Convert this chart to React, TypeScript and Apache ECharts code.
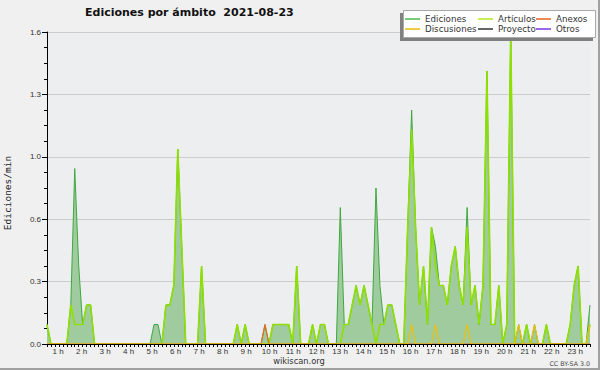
import React, { useEffect, useRef } from "react";
import * as echarts from "echarts";

// 10-minute buckets (index 0 = 00:00). Values in edits per minute.
const hourLabels = [
  "1 h", "2 h", "3 h", "4 h", "5 h", "6 h", "7 h", "8 h", "9 h", "10 h", "11 h", "12 h",
  "13 h", "14 h", "15 h", "16 h", "17 h", "18 h", "19 h", "20 h", "21 h", "22 h", "23 h",
];

const ediciones = [
  0.1, 0, 0, 0, 0, 0, 0.2, 0.9, 0.4, 0.1, 0.2, 0.2,
  0, 0, 0, 0, 0, 0, 0, 0, 0, 0, 0, 0,
  0, 0, 0, 0.1, 0.1, 0, 0.2, 0.2, 0.3, 1.0, 0.5, 0,
  0, 0, 0, 0.4, 0, 0, 0, 0, 0, 0, 0, 0,
  0.1, 0, 0.1, 0, 0, 0, 0, 0.1, 0, 0.1, 0.1, 0.1,
  0.1, 0.1, 0, 0.4, 0, 0, 0, 0.1, 0, 0.1, 0.1, 0,
  0, 0, 0.7, 0.1, 0.1, 0.2, 0.3, 0.2, 0.3, 0.2, 0.1, 0.8,
  0.3, 0.1, 0.2, 0.2, 0.1, 0, 0, 0.6, 1.2, 0.6, 0.2, 0.4,
  0.1, 0.6, 0.5, 0.3, 0.3, 0.2, 0.4, 0.5, 0.3, 0.2, 0.7, 0.2,
  0.3, 0.1, 0.3, 1.4, 0.1, 0.1, 0.3, 0, 0.1, 1.6, 0, 0.1,
  0, 0.1, 0, 0.1, 0, 0, 0.1, 0, 0, 0, 0, 0,
  0.1, 0.3, 0.4, 0, 0, 0.2,
];

const articulos = [
  0.1, 0, 0, 0, 0, 0, 0.2, 0.1, 0.1, 0.1, 0.2, 0.2,
  0, 0, 0, 0, 0, 0, 0, 0, 0, 0, 0, 0,
  0, 0, 0, 0, 0, 0, 0.2, 0.2, 0.3, 1.0, 0.5, 0,
  0, 0, 0, 0.4, 0, 0, 0, 0, 0, 0, 0, 0,
  0.1, 0, 0.1, 0, 0, 0, 0, 0, 0, 0.1, 0.1, 0.1,
  0.1, 0.1, 0, 0.4, 0, 0, 0, 0.1, 0, 0.1, 0.1, 0,
  0, 0, 0, 0.1, 0.1, 0.2, 0.3, 0.2, 0.3, 0.2, 0.1, 0,
  0.1, 0.1, 0.2, 0.2, 0.1, 0, 0, 0.6, 1.1, 0.6, 0.2, 0.4,
  0.1, 0.6, 0.4, 0.3, 0.3, 0.2, 0.4, 0.5, 0.3, 0.2, 0.6, 0.2,
  0.3, 0.1, 0.3, 1.4, 0.1, 0.1, 0.3, 0, 0.1, 1.6, 0, 0,
  0, 0.1, 0, 0, 0, 0, 0.1, 0, 0, 0, 0, 0,
  0.1, 0.3, 0.4, 0, 0, 0.1,
];

const anexos = [
  0, 0, 0, 0, 0, 0, 0, 0, 0, 0, 0, 0,
  0, 0, 0, 0, 0, 0, 0, 0, 0, 0, 0, 0,
  0, 0, 0, 0, 0, 0, 0, 0, 0, 0, 0, 0,
  0, 0, 0, 0, 0, 0, 0, 0, 0, 0, 0, 0,
  0, 0, 0, 0, 0, 0, 0, 0.1, 0, 0, 0, 0,
  0, 0, 0, 0, 0, 0, 0, 0, 0, 0, 0, 0,
  0, 0, 0, 0, 0, 0, 0, 0, 0, 0, 0, 0,
  0, 0, 0, 0, 0, 0, 0, 0, 0, 0, 0, 0,
  0, 0, 0, 0, 0, 0, 0, 0, 0, 0, 0, 0,
  0, 0, 0, 0, 0, 0, 0, 0, 0, 0, 0, 0,
  0, 0, 0, 0, 0, 0, 0, 0, 0, 0, 0, 0,
  0, 0, 0, 0, 0, 0,
];

const discusiones = [
  0, 0, 0, 0, 0, 0, 0, 0, 0, 0, 0, 0,
  0, 0, 0, 0, 0, 0, 0, 0, 0, 0, 0, 0,
  0, 0, 0, 0, 0, 0, 0, 0, 0, 0, 0, 0,
  0, 0, 0, 0, 0, 0, 0, 0, 0, 0, 0, 0,
  0, 0, 0, 0, 0, 0, 0, 0, 0, 0, 0, 0,
  0, 0, 0, 0, 0, 0, 0, 0, 0, 0, 0, 0,
  0, 0, 0, 0, 0, 0, 0, 0, 0, 0, 0, 0,
  0, 0, 0, 0, 0, 0, 0, 0, 0.1, 0, 0, 0,
  0, 0, 0.1, 0, 0, 0, 0, 0, 0, 0, 0.1, 0,
  0, 0, 0, 0, 0, 0, 0, 0, 0, 0, 0, 0.1,
  0, 0, 0, 0.1, 0, 0, 0, 0, 0, 0, 0, 0,
  0, 0, 0, 0, 0, 0.1,
];

const proyecto = [
  0, 0, 0, 0, 0, 0, 0, 0, 0, 0, 0, 0,
  0, 0, 0, 0, 0, 0, 0, 0, 0, 0, 0, 0,
  0, 0, 0, 0, 0, 0, 0, 0, 0, 0, 0, 0,
  0, 0, 0, 0, 0, 0, 0, 0, 0, 0, 0, 0,
  0, 0, 0, 0, 0, 0, 0, 0, 0, 0, 0, 0,
  0, 0, 0, 0, 0, 0, 0, 0, 0, 0, 0, 0,
  0, 0, 0, 0, 0, 0, 0, 0, 0, 0, 0, 0,
  0, 0, 0, 0, 0, 0, 0, 0, 0, 0, 0, 0,
  0, 0, 0, 0, 0, 0, 0, 0, 0, 0, 0, 0,
  0, 0, 0, 0, 0, 0, 0, 0, 0, 0, 0, 0,
  0, 0, 0, 0, 0, 0, 0, 0, 0, 0, 0, 0,
  0, 0, 0, 0, 0, 0,
];

const otros = [
  0, 0, 0, 0, 0, 0, 0, 0, 0, 0, 0, 0,
  0, 0, 0, 0, 0, 0, 0, 0, 0, 0, 0, 0,
  0, 0, 0, 0, 0, 0, 0, 0, 0, 0, 0, 0,
  0, 0, 0, 0, 0, 0, 0, 0, 0, 0, 0, 0,
  0, 0, 0, 0, 0, 0, 0, 0, 0, 0, 0, 0,
  0, 0, 0, 0, 0, 0, 0, 0, 0, 0, 0, 0,
  0, 0, 0, 0, 0, 0, 0, 0, 0, 0, 0, 0,
  0, 0, 0, 0, 0, 0, 0, 0, 0, 0, 0, 0,
  0, 0, 0, 0, 0, 0, 0, 0, 0, 0, 0, 0,
  0, 0, 0, 0, 0, 0, 0, 0, 0, 0, 0, 0,
  0, 0, 0, 0, 0, 0, 0, 0, 0, 0, 0, 0,
  0, 0, 0, 0, 0, 0,
];

const LAST_BUCKET = ediciones.length - 1;
const FONT = "DejaVu Sans";

// hour labels in the original sit slightly tighter than the data grid
const LABEL_START = 2.8;
const LABEL_STEP = 5.93;
const labelPositions = hourLabels.map((_, k) => LABEL_START + k * LABEL_STEP);

function pairs(values: number[]) {
  return values.map((v, i) => [i, v]);
}

export default function App() {
  const ref = useRef<HTMLDivElement>(null);

  useEffect(() => {
    if (!ref.current) return;
    const chart = echarts.init(ref.current, null, { renderer: "svg" });

    const lineSeries = (name: string, data: number[], color: string, width: number, extra: any = {}) => ({
      name,
      type: "line",
      data: pairs(data),
      showSymbol: false,
      symbol: "none",
      clip: true,
      lineStyle: { color, width },
      itemStyle: { color },
      emphasis: { disabled: true },
      ...extra,
    });

    const legendText = { fontFamily: FONT, fontSize: 8.7, color: "#333", lineHeight: 10 };
    const legendCommon = {
      orient: "vertical",
      top: 14,
      itemWidth: 15,
      itemHeight: 2,
      itemGap: 0,
      icon: "rect",
      selectedMode: false,
      textStyle: legendText,
      padding: 0,
      z: 110,
    };

    const option: any = {
      animation: false,
      backgroundColor: "#f0f0f0",
      title: {
        text: "Ediciones por ámbito  2021-08-23",
        left: 85,
        top: 7,
        padding: 0,
        textStyle: { fontFamily: FONT, fontWeight: "bold", fontSize: 11, color: "#111" },
      },
      grid: {
        left: 47,
        top: 32,
        width: 543,
        height: 312,
        show: true,
        backgroundColor: "#edeef0",
        borderWidth: 0,
        containLabel: false,
        outerBoundsMode: "none",
      },
      xAxis: {
        type: "value",
        min: 0,
        max: LAST_BUCKET,
        interval: 1,
        z: 5,
        axisLine: { lineStyle: { color: "#000", width: 1 } },
        axisTick: { length: 3, lineStyle: { color: "#000" } },
        splitLine: { show: false },
        axisLabel: {
          customValues: labelPositions,
          formatter: (v: number) => hourLabels[Math.round((v - LABEL_START) / LABEL_STEP)] ?? "",
          margin: 3,
          fontFamily: "Liberation Sans",
          fontSize: 8,
          color: "#333",
        },
      },
      yAxis: {
        type: "value",
        min: 0,
        max: 1.6,
        interval: 0.32,
        name: "Ediciones/min",
        nameLocation: "middle",
        nameGap: 35,
        nameTextStyle: {
          fontFamily: "DejaVu Sans Mono",
          fontSize: 9.5,
          color: "#222",
          padding: [0, 10, 0, 0],
        },
        axisLine: { show: true, lineStyle: { color: "#000", width: 1 } },
        axisTick: { show: true, length: 5, lineStyle: { color: "#000" } },
        minorTick: { show: true, splitNumber: 4, length: 3, lineStyle: { color: "#000" } },
        splitLine: { show: true, lineStyle: { color: "#cccccc", width: 1 } },
        axisLabel: {
          formatter: (v: number) => v.toFixed(1),
          margin: 6,
          fontFamily: "Liberation Sans",
          fontSize: 8,
          color: "#333",
        },
      },
      legend: [
        {
          ...legendCommon,
          left: 405,
          data: [
            { name: "Ediciones", itemStyle: { color: "#77cc77" } },
            { name: "Discusiones", itemStyle: { color: "#eecc44" } },
          ],
        },
        {
          ...legendCommon,
          left: 478,
          data: [
            { name: "Artículos", itemStyle: { color: "#c8ee55" } },
            { name: "Proyecto", itemStyle: { color: "#666666" } },
          ],
        },
        {
          ...legendCommon,
          left: 536,
          data: [
            { name: "Anexos", itemStyle: { color: "#ee8855" } },
            { name: "Otros", itemStyle: { color: "#9966ee" } },
          ],
        },
      ],
      graphic: [
        { type: "rect", z: 100, shape: { x: 400, y: 13, width: 193, height: 28 }, style: { fill: "#808080" } },
        {
          type: "rect",
          z: 101,
          shape: { x: 403.5, y: 10.5, width: 192, height: 27 },
          style: { fill: "#ffffff", stroke: "#a8a8a8", lineWidth: 1 },
        },
        {
          type: "text",
          z: 100,
          x: 299,
          y: 361,
          style: {
            text: "wikiscan.org",
            fill: "#333",
            fontFamily: FONT,
            fontSize: 8.3,
            align: "center",
            verticalAlign: "middle",
          },
        },
        {
          type: "text",
          z: 100,
          x: 590,
          y: 363,
          style: {
            text: "CC BY-SA 3.0",
            fill: "#444",
            fontFamily: FONT,
            fontSize: 6.3,
            align: "right",
            verticalAlign: "middle",
          },
        },
        { type: "rect", z: 100, shape: { x: 598, y: 0, width: 2, height: 370 }, style: { fill: "#a0a0a0" } },
        { type: "rect", z: 100, shape: { x: 0, y: 368, width: 600, height: 2 }, style: { fill: "#a0a0a0" } },
      ],
      series: [
        lineSeries("Ediciones", ediciones, "#3fa83f", 1, {
          areaStyle: { color: "#9fcb9f", opacity: 1 },
          z: 2,
        }),
        lineSeries("Artículos", articulos, "#8fe000", 1.6, { z: 3 }),
        lineSeries("Anexos", anexos, "#e8691c", 1.2, { z: 4 }),
        lineSeries("Discusiones", discusiones, "#f0c000", 1.2, { z: 4 }),
        lineSeries("Proyecto", proyecto, "#555555", 1, { z: 1 }),
        lineSeries("Otros", otros, "#8a4fe0", 1, { z: 1 }),
      ],
    };

    chart.setOption(option);
    return () => chart.dispose();
  }, []);

  return (
    <div
      ref={ref}
      style={{ position: "fixed", left: 0, top: 0, width: 600, height: 370 }}
    />
  );
}
